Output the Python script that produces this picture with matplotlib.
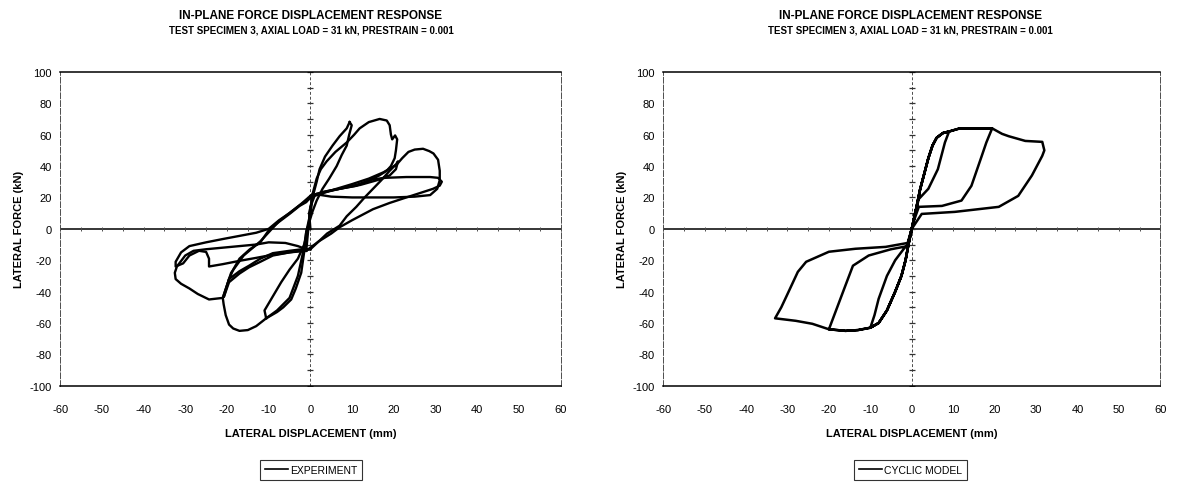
import numpy as np
import matplotlib.pyplot as plt
from matplotlib.lines import Line2D

plt.rcParams['font.family'] = ['Liberation Sans Narrow', 'Liberation Sans', 'DejaVu Sans']
plt.rcParams['axes.unicode_minus'] = False

title_txt = "IN-PLANE FORCE DISPLACEMENT RESPONSE"
subtitle_txt = "TEST SPECIMEN 3, AXIAL LOAD = 31 kN, PRESTRAIN = 0.001"
xlabel_txt = "LATERAL DISPLACEMENT (mm)"
ylabel_txt = "LATERAL FORCE (kN)"
xticks = list(range(-60, 61, 10))
yticks = list(range(-100, 101, 20))

# experiment branches, (displacement mm, force kN)
exp_up10 = [(0,0),(-0.3,10),(0.5,20),(1.5,30),(2.2,38),(3.5,46),(5.3,53),(7,59),(8.7,64),(9.4,68)]
exp_dn10 = [(9.4,68),(9.9,66),(9.3,60),(8.7,53),(7.5,47),(6.3,40),(4.5,32),(2.9,25.5),(1.5,18),
            (0.5,11),(-0.3,4),(-1,-2),(-1.4,-13)]
exp_neg10_dn = [(-1.4,-13),(-2.2,-28),(-3.5,-38),(-4.6,-45),(-6.5,-50),(-8,-53),(-10.6,-57)]
exp_neg10_up = [(-10.6,-57),(-11,-52),(-9,-43),(-7,-34),(-5,-26),(-3,-19),(-1.5,-10),(-0.5,0),(0,10),(0.5,22)]
exp_pos20 = [(0.5,22),(1.5,32),(2.5,38),(3.9,43),(6,49),(8.7,55),(10.5,60),(11.8,64),(14,68),(16.6,70),
             (18.3,69),(19,66),(19.3,60),(19.6,57),(20.3,59.5),(20.8,57),(20.5,50),(20.2,45),(19.3,40),
             (18.3,37),(16.5,34),(15,32),(11,27.4),(7,25.5),(3,23),(0.5,21)]
exp_blob = [(0.5,21),(0,10),(-1,-2),(-1.6,-13),(-3,-30),(-5,-44),(-8,-52),(-10.6,-57),(-13,-62),(-15,-64.5),
            (-17,-65),(-18.5,-63.5),(-19.5,-61),(-20.3,-55),(-20.8,-48),(-21,-44),(-19.5,-32),(-17,-27),
            (-14.7,-23.5),(-12,-19),(-9,-15.5),(-5,-14),(-2,-13),(0,-13)]
exp_pos20b = [(0,-13),(2,-8),(4,-3),(7,2),(8.7,8),(11,14),(13,20),(15,25.5),(17,31),(19,37),(20.5,41),
              (21,43),(20.5,38),(19,34),(16,31),(12,28),(8,26),(4,24),(0.5,21.5)]
exp_vee = [(0.5,21.5),(-1,17),(-2.6,14.6),(-5,9.5),(-7.5,4.5),(-10,-1),(-12,-8.6),(-14.5,-13),(-17,-19),
           (-18.5,-26),(-19.5,-32),(-20.7,-43)]
exp_vee_up = [(-20.7,-43),(-19.5,-34),(-17,-28.5),(-14.7,-24.5),(-12,-21),(-9,-17),(-5,-15),(-1,-14)]
exp_pos30 = [(-1,-14),(-0.5,0),(0,14),(1,21),(5,24.5),(10,28.5),(14,32),(17.5,36),(20.7,41),(22,45),
             (23.5,49),(25,50.5),(27,51),(28.5,49.5),(29.5,48),(30.6,44),(31,37),(31,31),(30.4,25.5),
             (28.7,21.5),(25,20.5),(20,20),(15,20),(10,20),(5,20.5),(1.4,22)]
exp_neg30 = [(1.4,22),(-2.6,15),(-7.5,5),(-12,-8),(-16,-17),(-19,-28),(-21,-44),(-24.3,-45),(-27,-41.5),
             (-29,-38),(-31,-35),(-32.3,-32),(-32.5,-28),(-32,-24),(-30,-17),(-28,-14),(-25,-13),
             (-21,-12),(-17,-11),(-13,-10),(-10,-8.6),(-6,-9),(-3,-11),(-1,-13)]
exp_pos30b = [(-1,-14),(2,-8),(5,-3),(7,1),(10,5.5),(15,12.5),(19,16.5),(23,20),(26.5,23),(29.4,25.5),
              (31,27.5),(31.5,30),(30.6,32.5),(28.7,33),(23,33),(18,32.5),(15,31.5),(11,28),(7,25.5),
              (3,23.5),(0,21)]
exp_neg30b = [(0,21),(-2.6,15),(-5,10),(-7.5,5.5),(-10,0),(-13,-2.5),(-17,-4.5),(-21,-6.5),(-25,-8.6),
              (-29,-11),(-31,-15),(-32.3,-21),(-32.3,-24),(-30.5,-22),(-29,-17),(-26.7,-14),(-25,-14.7),
              (-24.3,-19),(-24.3,-24),(-21,-22.5),(-17,-20.4),(-13,-18.5),(-10,-17),(-5,-15),(0,-13)]

experiment = [exp_up10, exp_dn10, exp_neg10_dn, exp_neg10_up, exp_pos20, exp_blob, exp_pos20b,
              exp_vee, exp_vee_up, exp_pos30, exp_neg30, exp_pos30b, exp_neg30b]

# cyclic model, one continuous path
model = [(0,0),(1,12),(2,25),(3,35),(4,45),(5,53),(6,58),(7.5,61),(9,62),(8,55),(6.3,38),(4,25.5),
         (1.7,19),(0.8,10),(0,0),(-0.8,-10),(-1.5,-20),(-2.5,-30),(-4,-40),(-6,-52),(-8,-60),(-10,-63),
         (-9,-55),(-8,-44.6),(-6,-30),(-4,-20),(-2,-13),(-1,-10),(0,0),
         (1,12),(2,25),(3,35),(4,45),(5,53),(6,58),(7.5,61),(9,62),(11.6,64),(15,64),(19.4,64),
         (18,55),(16.9,46.5),(14.4,27.4),(12,18),(7.3,14.6),(1.7,14),(0.5,5),(0,0),
         (-0.8,-10),(-1.5,-20),(-2.5,-30),(-4,-40),(-6,-52),(-8,-60),(-10,-63),(-13,-64.5),(-16,-65),
         (-20,-64),(-18,-50),(-16,-36),(-14.2,-23.5),(-10.4,-17),(-5,-13),(-1,-11),(0,0),
         (1,12),(2,25),(3,35),(4,45),(5,53),(6,58),(7.5,61),(9,62),(11.6,64),(15,64),(19.4,64),
         (21.8,60.5),(23.4,59),(27.4,56),(31.5,55.4),(32,50),(31.5,46.5),(29,34),(25.7,21),(21,14),
         (10.4,10.8),(2.4,9.5),(0,0),
         (-0.8,-10),(-1.5,-20),(-2.5,-30),(-4,-40),(-6,-52),(-8,-60),(-10,-63),(-13,-64.5),(-16,-65),
         (-20,-64),(-24,-60.5),(-28,-58.6),(-33,-57),(-31.5,-50),(-30.2,-42.7),(-27.5,-27.4),
         (-25.5,-21),(-20,-14.6),(-13.6,-12.7),(-6.3,-11.5),(-1,-9),(0,0)]


def style_axes(ax):
    ax.set_xlim(-60, 60)
    ax.set_ylim(-100, 100)
    ax.set_xticks(xticks)
    ax.set_yticks(yticks)
    ax.tick_params(axis='x', length=0, labelsize=8, pad=13)
    ax.tick_params(axis='y', length=0, labelsize=8, pad=6)
    for s in ['top', 'bottom']:
        ax.spines[s].set_linewidth(1.1)
    for s in ['left', 'right']:
        ax.spines[s].set_linewidth(0.7)
        ax.spines[s].set_linestyle((0, (6, 2)))
        ax.spines[s].set_color('0.3')
    ax.axhline(0, color='black', lw=1.1, zorder=1)
    ax.axvline(0, color='0.3', lw=0.7, ls=(0, (3, 2)), zorder=1)
    # small tick marks on the zero lines
    ax.plot(np.arange(-60, 61, 5), np.zeros(25), ls='none', marker='|', ms=3, color='0.3', mew=0.7)
    ax.plot(np.zeros(21), np.arange(-100, 101, 10), ls='none', marker='_', ms=4, color='0.2', mew=0.9)
    ax.set_xlabel(xlabel_txt, fontsize=8, fontweight='bold', labelpad=10)
    ax.set_ylabel(ylabel_txt, fontsize=8, fontweight='bold', labelpad=4)


fig = plt.figure(figsize=(11.78, 4.89), dpi=100)
ax1 = fig.add_axes([0.051, 0.209, 0.425, 0.642])
ax2 = fig.add_axes([0.563, 0.209, 0.422, 0.642])

for ax in (ax1, ax2):
    style_axes(ax)

for br in experiment:
    arr = np.array(br)
    ax1.plot(arr[:, 0], arr[:, 1], color='black', lw=1.7, solid_joinstyle='round')
m = np.array(model)
ax2.plot(m[:, 0], m[:, 1], color='black', lw=1.8, solid_joinstyle='round')

for cx in (0.264, 0.773):
    fig.text(cx, 0.968, title_txt, ha='center', va='center', fontsize=8.5, fontweight='bold')
    fig.text(cx, 0.938, subtitle_txt, ha='center', va='center', fontsize=7, fontweight='bold')

for ax, lab, cx in ((ax1, "EXPERIMENT", 0.264), (ax2, "CYCLIC MODEL", 0.773)):
    h = Line2D([], [], color='black', lw=1.2)
    leg = fig.legend([h], [lab], loc='center', bbox_to_anchor=(cx, 0.037), fontsize=7.5,
                     frameon=True, fancybox=False, handlelength=2.2, handletextpad=0.2,
                     borderpad=0.5, edgecolor='black')
    leg.get_frame().set_linewidth(0.8)

fig.savefig('out.png', dpi=100)
